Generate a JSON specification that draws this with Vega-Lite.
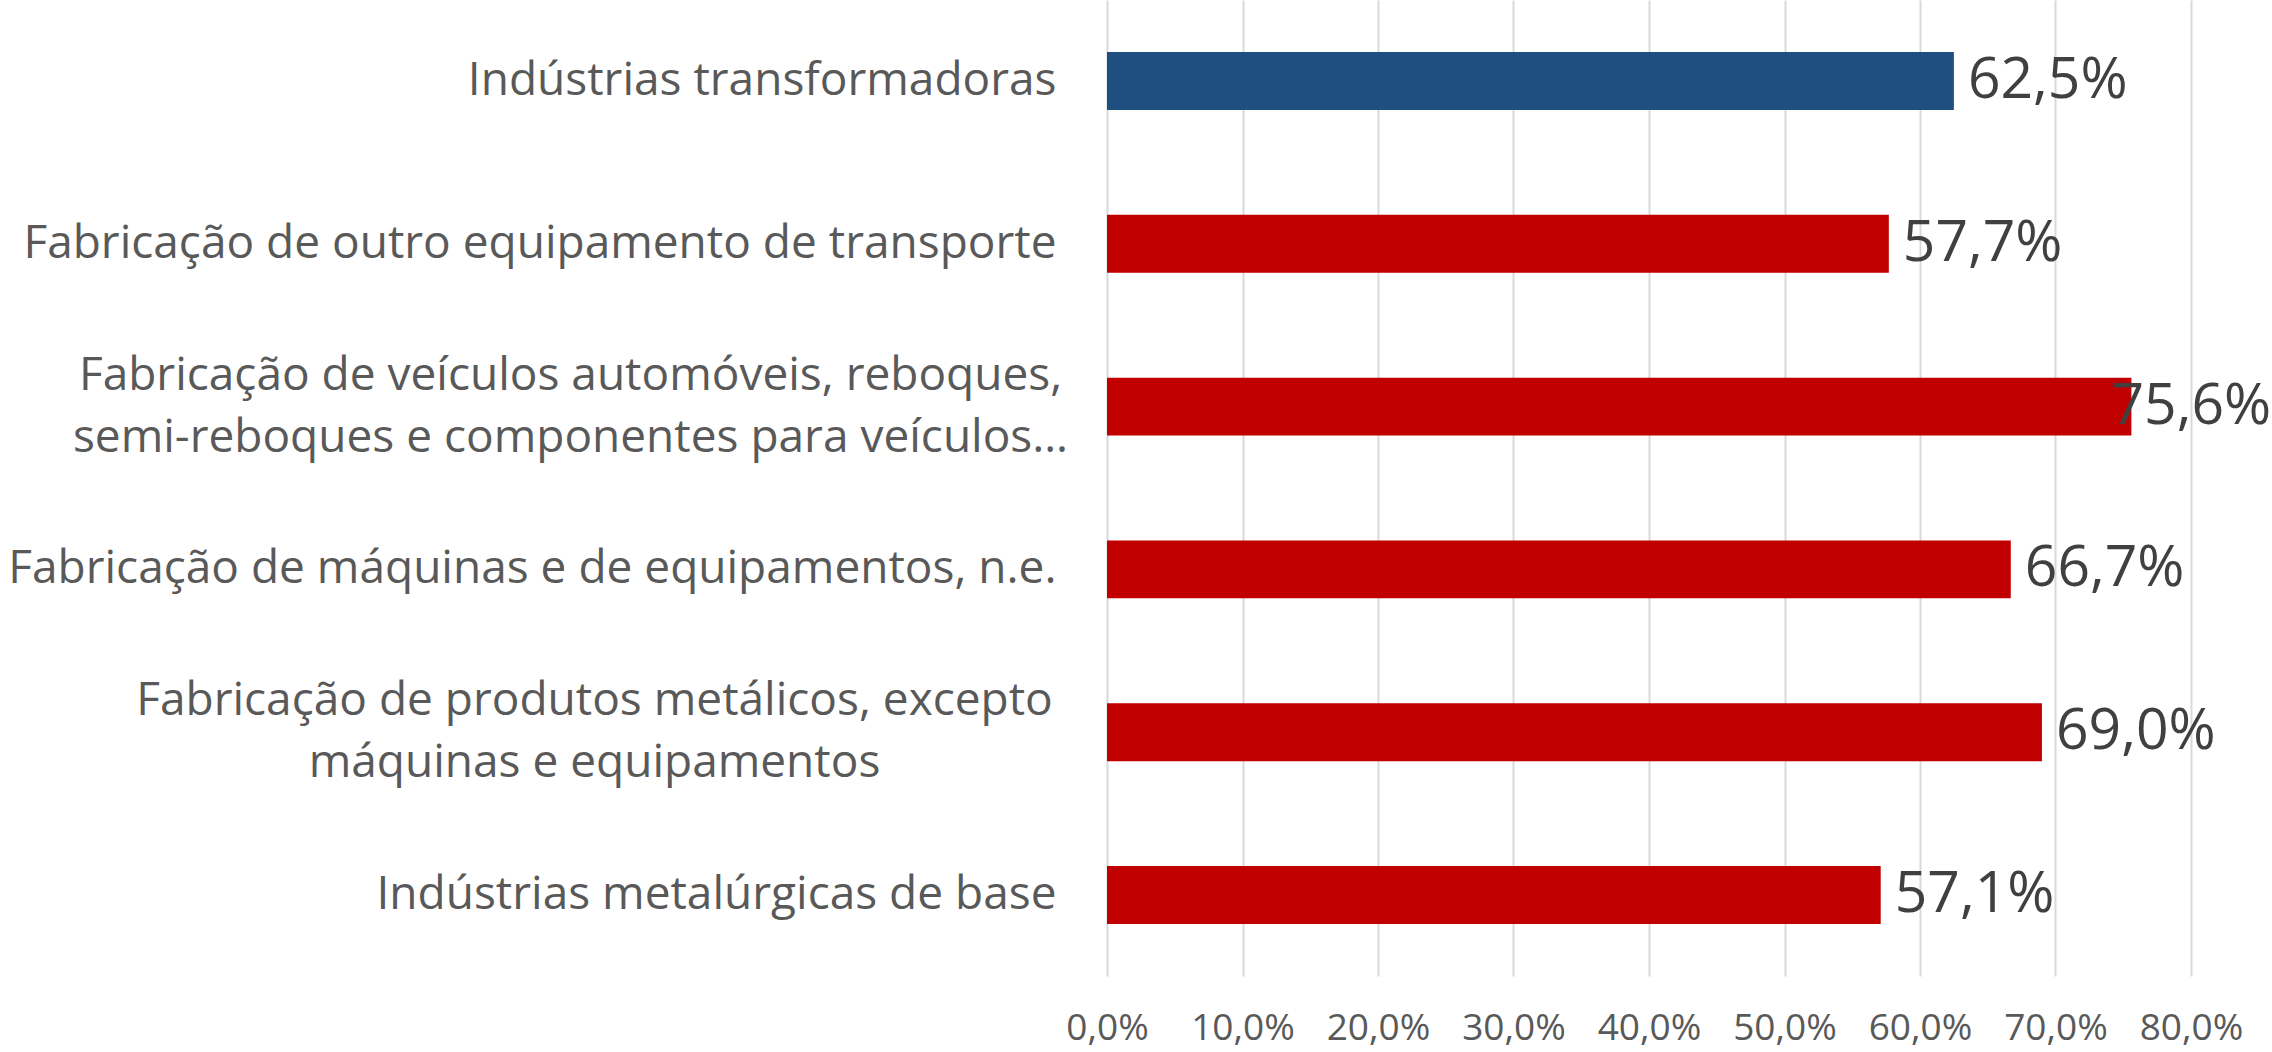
{
  "$schema": "https://vega.github.io/schema/vega-lite/v6.json",
  "autosize": "none",
  "width": 1084,
  "height": 976,
  "padding": {"left": 1107, "top": 0, "right": 81, "bottom": 76},
  "background": "white",
  "data": {
    "values": [
      {"setor": "Indústrias transformadoras", "valor": 0.625, "grupo": "total"},
      {"setor": "Fabricação de outro equipamento de transporte", "valor": 0.577, "grupo": "setor"},
      {"setor": "Fabricação de veículos automóveis, reboques,\nsemi-reboques e componentes para veículos…", "valor": 0.756, "grupo": "setor"},
      {"setor": "Fabricação de máquinas e de equipamentos, n.e.", "valor": 0.667, "grupo": "setor"},
      {"setor": "Fabricação de produtos metálicos, excepto\nmáquinas e equipamentos", "valor": 0.69, "grupo": "setor"},
      {"setor": "Indústrias metalúrgicas de base", "valor": 0.571, "grupo": "setor"}
    ]
  },
  "encoding": {
    "y": {
      "field": "setor",
      "type": "nominal",
      "sort": null,
      "scale": {"paddingInner": 0.644, "paddingOuter": 0.32},
      "axis": {
        "title": null,
        "domain": false,
        "ticks": false,
        "labelFont": "Open Sans",
        "labelFontSize": 46,
        "labelColor": "#595959",
        "labelLimit": 1200,
        "labelLineHeight": 62,
        "labelExpr": "split(datum.label, '\\n')",
        "labelAlign": {"condition": {"test": "indexof(datum.value, '\\n') >= 0", "value": "center"}, "value": "right"},
        "labelOffset": {"condition": {"test": "indexof(datum.value, '\\n') >= 0", "value": -31}, "value": 0},
        "labelPadding": {"condition": [{"test": "indexof(datum.value, 'veículos…') >= 0", "value": 537}, {"test": "indexof(datum.value, 'excepto') >= 0", "value": 513}], "value": 51}
      }
    }
  },
  "layer": [
    {
      "mark": {"type": "bar"},
      "encoding": {
        "x": {
          "field": "valor",
          "type": "quantitative",
          "scale": {"domain": [0, 0.8]},
          "axis": {
            "title": null,
            "format": ".1%",
            "values": [0, 0.1, 0.2, 0.3, 0.4, 0.5, 0.6, 0.7, 0.8],
            "domain": false,
            "ticks": false,
            "grid": true,
            "gridColor": "#D9D9D9",
            "gridWidth": 2,
            "labelFont": "Open Sans",
            "labelFontSize": 37,
            "labelColor": "#595959",
            "labelPadding": 34,
            "labelFlush": false
          }
        },
        "color": {
          "field": "grupo",
          "type": "nominal",
          "scale": {"domain": ["total", "setor"], "range": ["#1F4E80", "#C00000"]},
          "legend": null
        }
      }
    },
    {
      "transform": [{"calculate": "min(datum.valor, 0.731)", "as": "posRotulo"}],
      "mark": {"type": "text", "align": "left", "baseline": "middle", "dx": 14, "font": "Open Sans", "fontSize": 57, "color": "#404040"},
      "encoding": {
        "x": {"field": "posRotulo", "type": "quantitative"},
        "text": {"field": "valor", "type": "quantitative", "format": ".1%"}
      }
    }
  ],
  "config": {
    "view": {"stroke": null},
    "locale": {"number": {"decimal": ",", "thousands": ".", "grouping": [3], "currency": ["", " €"]}}
  }
}
